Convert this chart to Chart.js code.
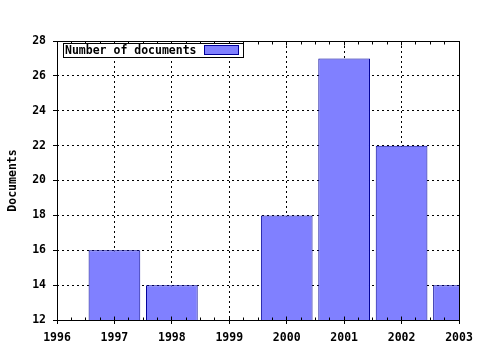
<!DOCTYPE html>
<html>
<head>
<meta charset="utf-8">
<script src="https://cdn.jsdelivr.net/npm/chart.js@4/dist/chart.umd.min.js"></script>
<style>
html,body{margin:0;padding:0;background:#fff;}
canvas{display:block;}
</style>
</head>
<body>
<canvas id="c" width="480" height="350"></canvas>
<script>
const years = [1997, 1998, 1999, 2000, 2001, 2002, 2003];
const documents = [16, 14, null, 18, 27, 22, 14];
const seriesLabel = 'Number of documents';
const yTitle = 'Documents';
const xMin = 1996, xMax = 2003, xStep = 1, xMinorStep = 0.25;
const yMin = 12, yMax = 28, yStep = 2;

const FONT = {family: '"DejaVu Sans Mono", "Liberation Mono", monospace', weight: 'bold', size: 11.5};
const FILL = '#8080ff';
const EDGE = '#000099';

const framePlugin = {
  id: 'frame',
  afterDatasetsDraw(chart) {
    const {ctx, chartArea: a, scales: {x}} = chart;
    const L = Math.floor(a.left) + 0.5, R = Math.floor(a.right) + 0.5;
    const T = Math.floor(a.top) + 0.5, B = Math.floor(a.bottom) + 0.5;
    ctx.save();
    ctx.strokeStyle = '#000';
    ctx.lineWidth = 1;
    ctx.beginPath();
    for (let v = xMin; v <= xMax + 1e-9; v += xMinorStep) {
      const px = Math.floor(x.getPixelForValue(v)) + 0.5;
      const major = Math.abs(v - Math.round(v)) < 1e-9;
      const len = major ? 4 : 3;
      ctx.moveTo(px, B); ctx.lineTo(px, B - len);
      ctx.moveTo(px, T); ctx.lineTo(px, T + len);
    }
    ctx.stroke();
    ctx.strokeRect(L, T, R - L, B - T);
    ctx.restore();
  },
  afterDraw(chart) {
    const {ctx, chartArea: a} = chart;
    const ds = chart.data.datasets[0];
    ctx.save();
    ctx.font = 'bold ' + FONT.size + 'px ' + FONT.family;
    const tw = ctx.measureText(ds.label).width;
    const bx = Math.floor(a.left) + 6.5, by = Math.floor(a.top) + 2.5;
    const bw = Math.round(tw + 48), bh = 14;
    ctx.fillStyle = '#fff';
    ctx.fillRect(bx, by, bw, bh);
    ctx.strokeStyle = '#000';
    ctx.lineWidth = 1;
    ctx.strokeRect(bx, by, bw, bh);
    ctx.fillStyle = '#000';
    ctx.textBaseline = 'middle';
    ctx.fillText(ds.label, bx + 1.5, by + bh / 2 + 0.5);
    ctx.fillStyle = ds.backgroundColor;
    ctx.fillRect(bx + bw - 39, by + 2, 34, 9);
    ctx.strokeStyle = ds.borderColor;
    ctx.strokeRect(bx + bw - 39, by + 2, 34, 9);
    ctx.restore();
  }
};

new Chart(document.getElementById('c'), {
  type: 'bar',
  data: {
    datasets: [{
      label: seriesLabel,
      data: years.map((yr, i) => ({x: yr, y: documents[i]})),
      backgroundColor: FILL,
      borderColor: EDGE,
      borderWidth: 1,
      barPercentage: 1,
      categoryPercentage: 0.9
    }]
  },
  options: {
    responsive: false,
    animation: false,
    layout: {padding: {left: 0, right: 21, top: 41, bottom: 0}},
    plugins: {legend: {display: false}, tooltip: {enabled: false}},
    scales: {
      x: {
        type: 'linear',
        offset: false,
        min: xMin, max: xMax,
        afterFit(s) { s.height = 30; },
        ticks: {
          stepSize: xStep,
          color: '#000',
          font: FONT,
          padding: 7,
          maxRotation: 0,
          autoSkip: false,
          callback: v => String(v)
        },
        grid: {
          offset: false,
          color: '#000',
          tickColor: '#000',
          lineWidth: 1,
          drawTicks: true,
          tickLength: 4
        },
        border: {display: false, dash: [2, 3]}
      },
      y: {
        min: yMin, max: yMax,
        afterFit(s) { s.width = 57; },
        ticks: {
          stepSize: yStep,
          color: '#000',
          font: FONT,
          padding: 7
        },
        grid: {
          color: '#000',
          tickColor: '#000',
          lineWidth: 1,
          drawTicks: true,
          tickLength: 4
        },
        border: {display: false, dash: [2, 3]},
        title: {
          display: true,
          text: yTitle,
          color: '#000',
          font: FONT,
          padding: {top: 6, bottom: 0}
        }
      }
    }
  },
  plugins: [framePlugin]
});
</script>
</body>
</html>
